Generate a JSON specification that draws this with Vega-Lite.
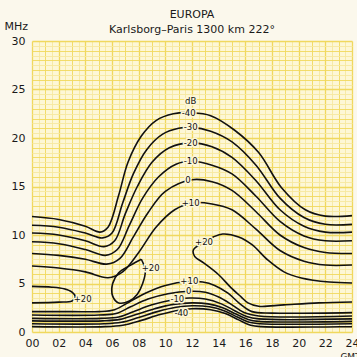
{
  "$schema": "https://vega.github.io/schema/vega-lite/v6.json",
  "width": 320,
  "height": 291,
  "autosize": "none",
  "padding": {"left": 32, "top": 41, "right": 5, "bottom": 25},
  "background": "#fbf8ec",
  "config": {
    "view": {"stroke": null, "fill": "#fdf7d6"},
    "font": "DejaVu Sans",
    "axis": {"labelOverlap": false},
    "title": {"font": "DejaVu Sans", "fontSize": 11, "fontWeight": "normal", "subtitleFont": "DejaVu Sans", "subtitleFontSize": 11, "color": "#1a1a1a", "subtitleColor": "#1a1a1a", "offset": -15, "subtitlePadding": 4}
  },
  "title": {"text": "EUROPA", "subtitle": "Karlsborg–Paris  1300 km  222°", "anchor": "middle"},
  "datasets": {
    "lines": [
      {"c": "u-40", "o": 0, "h": 0, "f": 11.9}, {"c": "u-40", "o": 1, "h": 2, "f": 11.6}, {"c": "u-40", "o": 2, "h": 4, "f": 10.9}, {"c": "u-40", "o": 3, "h": 5.1, "f": 10.3}, {"c": "u-40", "o": 4, "h": 5.7, "f": 10.8}, {"c": "u-40", "o": 5, "h": 6.5, "f": 14.1}, {"c": "u-40", "o": 6, "h": 7.2, "f": 17.5}, {"c": "u-40", "o": 7, "h": 8.2, "f": 20.2}, {"c": "u-40", "o": 8, "h": 9.3, "f": 21.8}, {"c": "u-40", "o": 9, "h": 10.6, "f": 22.5}, {"c": "u-40", "o": 10, "h": 12, "f": 22.6}, {"c": "u-40", "o": 11, "h": 13.4, "f": 22.3}, {"c": "u-40", "o": 12, "h": 15.2, "f": 20.8}, {"c": "u-40", "o": 13, "h": 17, "f": 18.5}, {"c": "u-40", "o": 14, "h": 18.7, "f": 14.9}, {"c": "u-40", "o": 15, "h": 20.5, "f": 12.6}, {"c": "u-40", "o": 16, "h": 22, "f": 11.95}, {"c": "u-40", "o": 17, "h": 24, "f": 12.0},

      {"c": "u-30", "o": 0, "h": 0, "f": 11.0}, {"c": "u-30", "o": 1, "h": 2, "f": 10.8}, {"c": "u-30", "o": 2, "h": 4, "f": 10.2}, {"c": "u-30", "o": 3, "h": 5.3, "f": 9.7}, {"c": "u-30", "o": 4, "h": 6.0, "f": 10.2}, {"c": "u-30", "o": 5, "h": 6.8, "f": 13.3}, {"c": "u-30", "o": 6, "h": 7.6, "f": 16.3}, {"c": "u-30", "o": 7, "h": 8.6, "f": 18.8}, {"c": "u-30", "o": 8, "h": 9.8, "f": 20.4}, {"c": "u-30", "o": 9, "h": 11, "f": 21.0}, {"c": "u-30", "o": 10, "h": 12, "f": 21.1}, {"c": "u-30", "o": 11, "h": 13.4, "f": 20.7}, {"c": "u-30", "o": 12, "h": 15, "f": 19.6}, {"c": "u-30", "o": 13, "h": 16.8, "f": 17.2}, {"c": "u-30", "o": 14, "h": 18.6, "f": 13.8}, {"c": "u-30", "o": 15, "h": 20.4, "f": 11.8}, {"c": "u-30", "o": 16, "h": 22, "f": 11.1}, {"c": "u-30", "o": 17, "h": 24, "f": 11.1},

      {"c": "u-20", "o": 0, "h": 0, "f": 10.2}, {"c": "u-20", "o": 1, "h": 2, "f": 10.0}, {"c": "u-20", "o": 2, "h": 4, "f": 9.4}, {"c": "u-20", "o": 3, "h": 5.4, "f": 8.8}, {"c": "u-20", "o": 4, "h": 6.2, "f": 9.4}, {"c": "u-20", "o": 5, "h": 7.0, "f": 12.2}, {"c": "u-20", "o": 6, "h": 7.9, "f": 15.0}, {"c": "u-20", "o": 7, "h": 9.0, "f": 17.5}, {"c": "u-20", "o": 8, "h": 10.3, "f": 19.0}, {"c": "u-20", "o": 9, "h": 12, "f": 19.5}, {"c": "u-20", "o": 10, "h": 13.5, "f": 19.1}, {"c": "u-20", "o": 11, "h": 15, "f": 18.0}, {"c": "u-20", "o": 12, "h": 16.8, "f": 15.6}, {"c": "u-20", "o": 13, "h": 18.6, "f": 12.6}, {"c": "u-20", "o": 14, "h": 20.4, "f": 10.9}, {"c": "u-20", "o": 15, "h": 22, "f": 10.3}, {"c": "u-20", "o": 16, "h": 24, "f": 10.3},

      {"c": "u-10", "o": 0, "h": 0, "f": 9.3}, {"c": "u-10", "o": 1, "h": 2, "f": 9.1}, {"c": "u-10", "o": 2, "h": 4, "f": 8.5}, {"c": "u-10", "o": 3, "h": 5.5, "f": 7.9}, {"c": "u-10", "o": 4, "h": 6.4, "f": 8.5}, {"c": "u-10", "o": 5, "h": 7.3, "f": 11.0}, {"c": "u-10", "o": 6, "h": 8.3, "f": 13.8}, {"c": "u-10", "o": 7, "h": 9.5, "f": 16.0}, {"c": "u-10", "o": 8, "h": 10.8, "f": 17.3}, {"c": "u-10", "o": 9, "h": 12, "f": 17.6}, {"c": "u-10", "o": 10, "h": 13.5, "f": 17.2}, {"c": "u-10", "o": 11, "h": 15, "f": 16.3}, {"c": "u-10", "o": 12, "h": 16.8, "f": 14.0}, {"c": "u-10", "o": 13, "h": 18.6, "f": 11.4}, {"c": "u-10", "o": 14, "h": 20.4, "f": 9.9}, {"c": "u-10", "o": 15, "h": 22, "f": 9.4}, {"c": "u-10", "o": 16, "h": 24, "f": 9.4},

      {"c": "u0", "o": 0, "h": 0, "f": 8.1}, {"c": "u0", "o": 1, "h": 2, "f": 7.9}, {"c": "u0", "o": 2, "h": 4, "f": 7.5}, {"c": "u0", "o": 3, "h": 5.6, "f": 7.0}, {"c": "u0", "o": 4, "h": 6.6, "f": 7.6}, {"c": "u0", "o": 5, "h": 7.6, "f": 9.8}, {"c": "u0", "o": 6, "h": 8.7, "f": 12.3}, {"c": "u0", "o": 7, "h": 10, "f": 14.5}, {"c": "u0", "o": 8, "h": 12, "f": 15.7}, {"c": "u0", "o": 9, "h": 13.5, "f": 15.5}, {"c": "u0", "o": 10, "h": 15, "f": 14.6}, {"c": "u0", "o": 11, "h": 16.8, "f": 12.4}, {"c": "u0", "o": 12, "h": 18.6, "f": 10.0}, {"c": "u0", "o": 13, "h": 20.4, "f": 8.7}, {"c": "u0", "o": 14, "h": 22, "f": 8.2}, {"c": "u0", "o": 15, "h": 24, "f": 8.1},

      {"c": "u+10", "o": 0, "h": 0, "f": 6.8}, {"c": "u+10", "o": 1, "h": 2, "f": 6.6}, {"c": "u+10", "o": 2, "h": 4, "f": 6.2}, {"c": "u+10", "o": 3, "h": 5.7, "f": 5.6}, {"c": "u+10", "o": 4, "h": 6.8, "f": 6.2}, {"c": "u+10", "o": 5, "h": 8, "f": 8.2}, {"c": "u+10", "o": 6, "h": 9.3, "f": 10.8}, {"c": "u+10", "o": 7, "h": 10.7, "f": 12.6}, {"c": "u+10", "o": 8, "h": 12, "f": 13.3}, {"c": "u+10", "o": 9, "h": 13.5, "f": 13.2}, {"c": "u+10", "o": 10, "h": 15, "f": 12.6}, {"c": "u+10", "o": 11, "h": 16.8, "f": 10.6}, {"c": "u+10", "o": 12, "h": 18.6, "f": 8.4}, {"c": "u+10", "o": 13, "h": 20.4, "f": 7.3}, {"c": "u+10", "o": 14, "h": 22, "f": 6.9}, {"c": "u+10", "o": 15, "h": 24, "f": 6.9},

      {"c": "r+20", "o": 0, "h": 24, "f": 5.05}, {"c": "r+20", "o": 1, "h": 22.3, "f": 5.15}, {"c": "r+20", "o": 2, "h": 20.2, "f": 5.57}, {"c": "r+20", "o": 3, "h": 18.9, "f": 6.2}, {"c": "r+20", "o": 4, "h": 17.7, "f": 7.4}, {"c": "r+20", "o": 5, "h": 16.5, "f": 9.0}, {"c": "r+20", "o": 6, "h": 15.5, "f": 9.8}, {"c": "r+20", "o": 7, "h": 14.3, "f": 10.1}, {"c": "r+20", "o": 8, "h": 13.6, "f": 9.8}, {"c": "r+20", "o": 9, "h": 12.8, "f": 9.2}, {"c": "r+20", "o": 10, "h": 12.1, "f": 8.45}, {"c": "r+20", "o": 11, "h": 12.2, "f": 7.8}, {"c": "r+20", "o": 12, "h": 12.9, "f": 7.1}, {"c": "r+20", "o": 13, "h": 14.0, "f": 5.9}, {"c": "r+20", "o": 14, "h": 14.9, "f": 4.6}, {"c": "r+20", "o": 15, "h": 15.7, "f": 3.6}, {"c": "r+20", "o": 16, "h": 16.2, "f": 3.0}, {"c": "r+20", "o": 17, "h": 17.0, "f": 2.65}, {"c": "r+20", "o": 18, "h": 18.9, "f": 2.8}, {"c": "r+20", "o": 19, "h": 21.5, "f": 3.0}, {"c": "r+20", "o": 20, "h": 24, "f": 3.1},

      {"c": "l+20", "o": 0, "h": 0, "f": 4.7}, {"c": "l+20", "o": 1, "h": 1.5, "f": 4.62}, {"c": "l+20", "o": 2, "h": 2.4, "f": 4.45}, {"c": "l+20", "o": 3, "h": 3.0, "f": 4.1}, {"c": "l+20", "o": 4, "h": 3.25, "f": 3.6}, {"c": "l+20", "o": 5, "h": 3.0, "f": 3.2}, {"c": "l+20", "o": 6, "h": 2.0, "f": 3.08}, {"c": "l+20", "o": 7, "h": 0, "f": 3.0},

      {"c": "m+20", "o": 0, "h": 8.2, "f": 7.5}, {"c": "m+20", "o": 1, "h": 7.4, "f": 6.9}, {"c": "m+20", "o": 2, "h": 6.5, "f": 6.1}, {"c": "m+20", "o": 3, "h": 6.05, "f": 5.0}, {"c": "m+20", "o": 4, "h": 6.05, "f": 3.7}, {"c": "m+20", "o": 5, "h": 6.5, "f": 3.0}, {"c": "m+20", "o": 6, "h": 7.3, "f": 3.2}, {"c": "m+20", "o": 7, "h": 7.9, "f": 3.9}, {"c": "m+20", "o": 8, "h": 8.3, "f": 5.0}, {"c": "m+20", "o": 9, "h": 8.5, "f": 6.3}, {"c": "m+20", "o": 10, "h": 8.2, "f": 7.5},

      {"c": "b+10", "o": 0, "h": 0, "f": 2.1}, {"c": "b+10", "o": 1, "h": 3, "f": 2.1}, {"c": "b+10", "o": 2, "h": 5, "f": 2.1}, {"c": "b+10", "o": 3, "h": 6.2, "f": 2.3}, {"c": "b+10", "o": 4, "h": 7.3, "f": 3.1}, {"c": "b+10", "o": 5, "h": 8.5, "f": 4.0}, {"c": "b+10", "o": 6, "h": 10, "f": 4.8}, {"c": "b+10", "o": 7, "h": 11.8, "f": 5.2}, {"c": "b+10", "o": 8, "h": 12.8, "f": 5.15}, {"c": "b+10", "o": 9, "h": 13.7, "f": 4.8}, {"c": "b+10", "o": 10, "h": 14.7, "f": 4.0}, {"c": "b+10", "o": 11, "h": 15.6, "f": 2.9}, {"c": "b+10", "o": 12, "h": 16.5, "f": 2.1}, {"c": "b+10", "o": 13, "h": 18, "f": 1.95}, {"c": "b+10", "o": 14, "h": 24, "f": 2.0},

      {"c": "b0", "o": 0, "h": 0, "f": 1.75}, {"c": "b0", "o": 1, "h": 5, "f": 1.75}, {"c": "b0", "o": 2, "h": 6.3, "f": 1.9}, {"c": "b0", "o": 3, "h": 7.4, "f": 2.6}, {"c": "b0", "o": 4, "h": 8.7, "f": 3.4}, {"c": "b0", "o": 5, "h": 10.2, "f": 3.95}, {"c": "b0", "o": 6, "h": 11.8, "f": 4.2}, {"c": "b0", "o": 7, "h": 13, "f": 4.1}, {"c": "b0", "o": 8, "h": 14, "f": 3.6}, {"c": "b0", "o": 9, "h": 15, "f": 2.8}, {"c": "b0", "o": 10, "h": 15.9, "f": 2.0}, {"c": "b0", "o": 11, "h": 17, "f": 1.65}, {"c": "b0", "o": 12, "h": 24, "f": 1.65},

      {"c": "b-10", "o": 0, "h": 0, "f": 1.4}, {"c": "b-10", "o": 1, "h": 5.2, "f": 1.4}, {"c": "b-10", "o": 2, "h": 6.5, "f": 1.55}, {"c": "b-10", "o": 3, "h": 7.6, "f": 2.1}, {"c": "b-10", "o": 4, "h": 9, "f": 2.8}, {"c": "b-10", "o": 5, "h": 10.5, "f": 3.3}, {"c": "b-10", "o": 6, "h": 11.8, "f": 3.5}, {"c": "b-10", "o": 7, "h": 13, "f": 3.4}, {"c": "b-10", "o": 8, "h": 14.2, "f": 2.9}, {"c": "b-10", "o": 9, "h": 15.2, "f": 2.2}, {"c": "b-10", "o": 10, "h": 16.1, "f": 1.6}, {"c": "b-10", "o": 11, "h": 17, "f": 1.35}, {"c": "b-10", "o": 12, "h": 24, "f": 1.35},

      {"c": "b-20", "o": 0, "h": 0, "f": 1.15}, {"c": "b-20", "o": 1, "h": 5.3, "f": 1.15}, {"c": "b-20", "o": 2, "h": 6.6, "f": 1.3}, {"c": "b-20", "o": 3, "h": 7.8, "f": 1.8}, {"c": "b-20", "o": 4, "h": 9.2, "f": 2.4}, {"c": "b-20", "o": 5, "h": 10.6, "f": 2.85}, {"c": "b-20", "o": 6, "h": 12, "f": 3.0}, {"c": "b-20", "o": 7, "h": 13.2, "f": 2.9}, {"c": "b-20", "o": 8, "h": 14.3, "f": 2.5}, {"c": "b-20", "o": 9, "h": 15.3, "f": 1.85}, {"c": "b-20", "o": 10, "h": 16.2, "f": 1.3}, {"c": "b-20", "o": 11, "h": 17, "f": 1.1}, {"c": "b-20", "o": 12, "h": 24, "f": 1.1},

      {"c": "b-30", "o": 0, "h": 0, "f": 0.85}, {"c": "b-30", "o": 1, "h": 5.4, "f": 0.85}, {"c": "b-30", "o": 2, "h": 6.7, "f": 1.0}, {"c": "b-30", "o": 3, "h": 8.0, "f": 1.5}, {"c": "b-30", "o": 4, "h": 9.4, "f": 2.1}, {"c": "b-30", "o": 5, "h": 10.8, "f": 2.55}, {"c": "b-30", "o": 6, "h": 12, "f": 2.7}, {"c": "b-30", "o": 7, "h": 13.3, "f": 2.6}, {"c": "b-30", "o": 8, "h": 14.4, "f": 2.2}, {"c": "b-30", "o": 9, "h": 15.4, "f": 1.55}, {"c": "b-30", "o": 10, "h": 16.3, "f": 1.0}, {"c": "b-30", "o": 11, "h": 17.1, "f": 0.85}, {"c": "b-30", "o": 12, "h": 24, "f": 0.85},

      {"c": "b-40", "o": 0, "h": 0, "f": 0.55}, {"c": "b-40", "o": 1, "h": 5.5, "f": 0.55}, {"c": "b-40", "o": 2, "h": 6.8, "f": 0.7}, {"c": "b-40", "o": 3, "h": 8.2, "f": 1.2}, {"c": "b-40", "o": 4, "h": 9.6, "f": 1.8}, {"c": "b-40", "o": 5, "h": 11, "f": 2.25}, {"c": "b-40", "o": 6, "h": 12, "f": 2.4}, {"c": "b-40", "o": 7, "h": 13.4, "f": 2.3}, {"c": "b-40", "o": 8, "h": 14.5, "f": 1.9}, {"c": "b-40", "o": 9, "h": 15.5, "f": 1.25}, {"c": "b-40", "o": 10, "h": 16.4, "f": 0.7}, {"c": "b-40", "o": 11, "h": 17.2, "f": 0.55}, {"c": "b-40", "o": 12, "h": 24, "f": 0.55}
    ],
    "labels": [
      {"h": 11.9, "f": 23.8, "t": "dB"},
      {"h": 11.75, "f": 22.6, "t": "-40"},
      {"h": 11.9, "f": 21.1, "t": "-30"},
      {"h": 11.9, "f": 19.5, "t": "-20"},
      {"h": 11.9, "f": 17.6, "t": "-10"},
      {"h": 11.7, "f": 15.7, "t": "0"},
      {"h": 11.9, "f": 13.3, "t": "+10"},
      {"h": 12.9, "f": 9.3, "t": "+20"},
      {"h": 8.9, "f": 6.6, "t": "+20"},
      {"h": 3.8, "f": 3.4, "t": "+20"},
      {"h": 11.8, "f": 5.25, "t": "+10"},
      {"h": 11.75, "f": 4.2, "t": "0"},
      {"h": 10.9, "f": 3.45, "t": "-10"},
      {"h": 11.2, "f": 2.0, "t": "-40"}
    ]
  },
  "encoding": {
    "x": {
      "field": "h", "type": "quantitative",
      "scale": {"domain": [0, 24], "nice": false, "zero": false},
      "axis": {
        "values": [0, 0.5, 1, 1.5, 2, 2.5, 3, 3.5, 4, 4.5, 5, 5.5, 6, 6.5, 7, 7.5, 8, 8.5, 9, 9.5, 10, 10.5, 11, 11.5, 12, 12.5, 13, 13.5, 14, 14.5, 15, 15.5, 16, 16.5, 17, 17.5, 18, 18.5, 19, 19.5, 20, 20.5, 21, 21.5, 22, 22.5, 23, 23.5, 24],
        "labelExpr": "datum.value % 2 === 0 ? (datum.value < 10 ? '0' + datum.value : '' + datum.value) : ''",
        "labelOverlap": false,
        "grid": true,
        "gridColor": {"condition": {"test": "datum.value % 1 === 0", "value": "#f0d85e"}, "value": "#f6e8a0"},
        "gridWidth": {"condition": {"test": "datum.value % 2 === 0", "value": 1.3}, "value": 0.9},
        "domain": false, "ticks": false,
        "labelFont": "DejaVu Sans", "labelFontSize": 11, "labelColor": "#1a1a1a", "labelPadding": 5,
        "labelFlush": false,
        "title": "GMT", "titleFont": "DejaVu Sans", "titleFontSize": 9, "titleFontWeight": "normal", "titleColor": "#1a1a1a",
        "titleX": 318, "titleY": 20, "titleAlign": "center", "titleBaseline": "top"
      }
    },
    "y": {
      "field": "f", "type": "quantitative",
      "scale": {"domain": [0, 30], "nice": false, "zero": true},
      "axis": {
        "values": [0, 0.5, 1, 1.5, 2, 2.5, 3, 3.5, 4, 4.5, 5, 5.5, 6, 6.5, 7, 7.5, 8, 8.5, 9, 9.5, 10, 10.5, 11, 11.5, 12, 12.5, 13, 13.5, 14, 14.5, 15, 15.5, 16, 16.5, 17, 17.5, 18, 18.5, 19, 19.5, 20, 20.5, 21, 21.5, 22, 22.5, 23, 23.5, 24, 24.5, 25, 25.5, 26, 26.5, 27, 27.5, 28, 28.5, 29, 29.5, 30],
        "labelExpr": "datum.value % 5 === 0 ? '' + datum.value : ''",
        "labelOverlap": false,
        "grid": true,
        "gridColor": {"condition": {"test": "datum.value % 1 === 0", "value": "#f0d85e"}, "value": "#f6e8a0"},
        "gridWidth": {"condition": {"test": "datum.value % 5 === 0", "value": 1.3}, "value": 0.9},
        "domain": false, "ticks": false,
        "labelFont": "DejaVu Sans", "labelFontSize": 11, "labelColor": "#1a1a1a", "labelPadding": 7,
        "labelFlush": false,
        "title": "MHz", "titleFont": "DejaVu Sans", "titleFontSize": 11, "titleFontWeight": "normal", "titleColor": "#1a1a1a",
        "titleAngle": 0, "titleAlign": "left", "titleBaseline": "bottom", "titleX": -28, "titleY": -10
      }
    }
  },
  "layer": [
    {
      "data": {"name": "lines"},
      "mark": {"type": "line", "interpolate": "catmull-rom", "color": "#111111", "strokeWidth": 1.6, "clip": true},
      "encoding": {
        "detail": {"field": "c"},
        "order": {"field": "o", "type": "quantitative"}
      }
    },
    {
      "data": {"name": "labels"},
      "mark": {"type": "text", "font": "DejaVu Sans", "fontSize": 8.5, "stroke": "#fdf7d6", "strokeWidth": 3, "strokeJoin": "round", "align": "center", "baseline": "middle"},
      "encoding": {"text": {"field": "t"}}
    },
    {
      "data": {"name": "labels"},
      "mark": {"type": "text", "font": "DejaVu Sans", "fontSize": 8.5, "color": "#111111", "align": "center", "baseline": "middle"},
      "encoding": {"text": {"field": "t"}}
    }
  ]
}
